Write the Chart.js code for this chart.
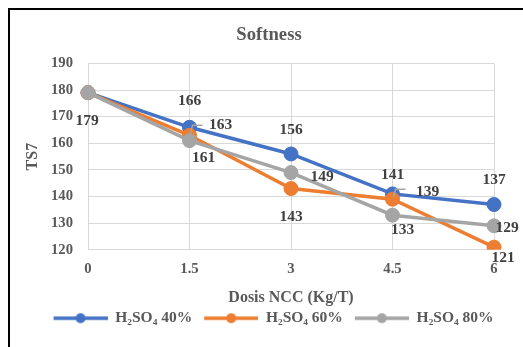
<!DOCTYPE html>
<html>
<head>
<meta charset="utf-8">
<script src="https://cdn.jsdelivr.net/npm/chart.js@4/dist/chart.umd.min.js"></script>
<style>
  html, body { margin: 0; padding: 0; background: #fff; }
  canvas { display: block; }
</style>
</head>
<body>
<canvas id="chart" width="523" height="347"></canvas>
<script>
// NCC dose (Kg/T) on the x axis
const doses = ['0', '1.5', '3', '4.5', '6'];

// TS7 softness readings for each acid concentration
const acid40 = [179, 166, 156, 141, 137];
const acid60 = [179, 163, 143, 139, 121];
const acid80 = [179, 161, 149, 133, 129];

const seriesNames = ['H\u2082SO\u2084 40%', 'H\u2082SO\u2084 60%', 'H\u2082SO\u2084 80%'];
const seriesColors = ['#4472C4', '#ED7D31', '#A5A5A5'];

const yMin = 120;
const yMax = 190;
const yStep = 10;

// Where each value label sits relative to its point: [dx, dy], null = no label
const labelPlacement = [
  [null, [0, -26], [0, -24], [0, -19], [0, -25]],
  [null, [31, -10], [0, 28], [35, -7], [9, 11]],
  [[-1, 28], [14, 17], [31, 4], [10, 15], [13, 2]]
];
// Labels pulled away from their point get a small connector
const leaderLines = [
  [false, false, false, false, false],
  [false, true, false, true, false],
  [false, false, false, false, false]
];

const serif = '"Liberation Serif", "Times New Roman", serif';
const textGrey = '#595959';
const gridGrey = '#D9D9D9';

// Legend symbol: short line with a dot, with some room on the left
function legendIcon(color) {
  const c = document.createElement('canvas');
  c.width = 63;
  c.height = 12;
  const g = c.getContext('2d');
  g.strokeStyle = color;
  g.lineWidth = 3.5;
  g.beginPath();
  g.moveTo(9, 6);
  g.lineTo(63, 6);
  g.stroke();
  g.fillStyle = color;
  g.beginPath();
  g.arc(36, 6, 5, 0, Math.PI * 2);
  g.fill();
  return c;
}

const frame = {
  id: 'frame',
  beforeDraw(chart) {
    const ctx = chart.ctx;
    ctx.save();
    ctx.fillStyle = '#fff';
    ctx.fillRect(0, 0, chart.width, chart.height);
    ctx.fillStyle = '#000';
    ctx.fillRect(8, 8, chart.width - 8, 2);
    ctx.fillRect(8, 8, 2, chart.height - 8);
    ctx.restore();
  }
};

const valueLabels = {
  id: 'valueLabels',
  afterDatasetsDraw(chart) {
    const ctx = chart.ctx;
    ctx.save();
    ctx.font = 'bold 15.5px ' + serif;
    ctx.textAlign = 'center';
    ctx.textBaseline = 'middle';
    chart.data.datasets.forEach((ds, di) => {
      const meta = chart.getDatasetMeta(di);
      meta.data.forEach((pt, i) => {
        const place = labelPlacement[di][i];
        if (!place) return;
        if (leaderLines[di][i]) {
          ctx.strokeStyle = '#A6A6A6';
          ctx.lineWidth = 1.5;
          ctx.beginPath();
          ctx.moveTo(pt.x + 1, pt.y - 2);
          ctx.lineTo(pt.x + 3, pt.y - 10);
          ctx.lineTo(pt.x + 13, pt.y - 10);
          ctx.stroke();
        }
        ctx.fillStyle = '#404040';
        ctx.fillText(String(ds.data[i]), pt.x + place[0], pt.y + place[1]);
      });
    });
    ctx.restore();
  }
};

const seriesData = [acid40, acid60, acid80];
const datasets = seriesData.map((values, i) => ({
  label: seriesNames[i],
  data: values,
  borderColor: seriesColors[i],
  backgroundColor: seriesColors[i],
  pointBackgroundColor: seriesColors[i],
  pointBorderColor: seriesColors[i],
  borderWidth: 3.5,
  pointRadius: 7,
  pointBorderWidth: 1,
  tension: 0,
  order: 3 - i
}));
const icons = seriesColors.map(legendIcon);

new Chart(document.getElementById('chart'), {
  type: 'line',
  data: { labels: doses, datasets },
  options: {
    responsive: false,
    animation: false,
    devicePixelRatio: 1,
    layout: { padding: { left: 19, right: 4, top: 14, bottom: 11 } },
    scales: {
      x: {
        type: 'category',
        offset: false,
        grid: { color: gridGrey, drawTicks: false },
        border: { color: gridGrey },
        ticks: {
          color: textGrey,
          padding: 11,
          maxRotation: 0,
          autoSkip: false,
          font: { family: serif, size: 14.67, weight: 'bold' }
        },
        title: {
          display: true,
          text: 'Dosis NCC (Kg/T)',
          color: textGrey,
          padding: { top: 0, bottom: 0 },
          font: { family: serif, size: 16, weight: 'bold' }
        },
        afterFit(scale) { scale.height = 57.7; }
      },
      y: {
        min: yMin,
        max: yMax,
        grid: { color: gridGrey, drawTicks: false },
        border: { color: gridGrey },
        ticks: {
          stepSize: yStep,
          color: textGrey,
          padding: 15,
          font: { family: serif, size: 14.67, weight: 'bold' }
        },
        title: {
          display: true,
          text: 'TS7',
          color: textGrey,
          padding: { top: 4, bottom: 0 },
          font: { family: serif, size: 16, weight: 'bold' }
        },
        afterFit(scale) { scale.width = 69; }
      },
      spacer: {
        type: 'linear',
        position: 'right',
        display: true,
        grid: { display: false },
        border: { display: false },
        ticks: { display: false },
        afterFit(scale) { scale.width = 25; }
      }
    },
    plugins: {
      title: {
        display: true,
        text: 'Softness',
        color: textGrey,
        padding: { top: 10, bottom: 17 },
        font: { family: serif, size: 18.67, weight: 'bold' }
      },
      legend: {
        position: 'bottom',
        labels: {
          usePointStyle: true,
          pointStyleWidth: 63,
          padding: 3,
          color: textGrey,
          font: { family: serif, size: 15.5, weight: 'bold' },
          sort: (a, b) => a.datasetIndex - b.datasetIndex,
          generateLabels(chart) {
            const items = Chart.defaults.plugins.legend.labels.generateLabels(chart);
            items.forEach(it => { it.pointStyle = icons[it.datasetIndex]; });
            return items;
          }
        }
      },
      tooltip: { enabled: false }
    }
  },
  plugins: [frame, valueLabels]
});
</script>
</body>
</html>
